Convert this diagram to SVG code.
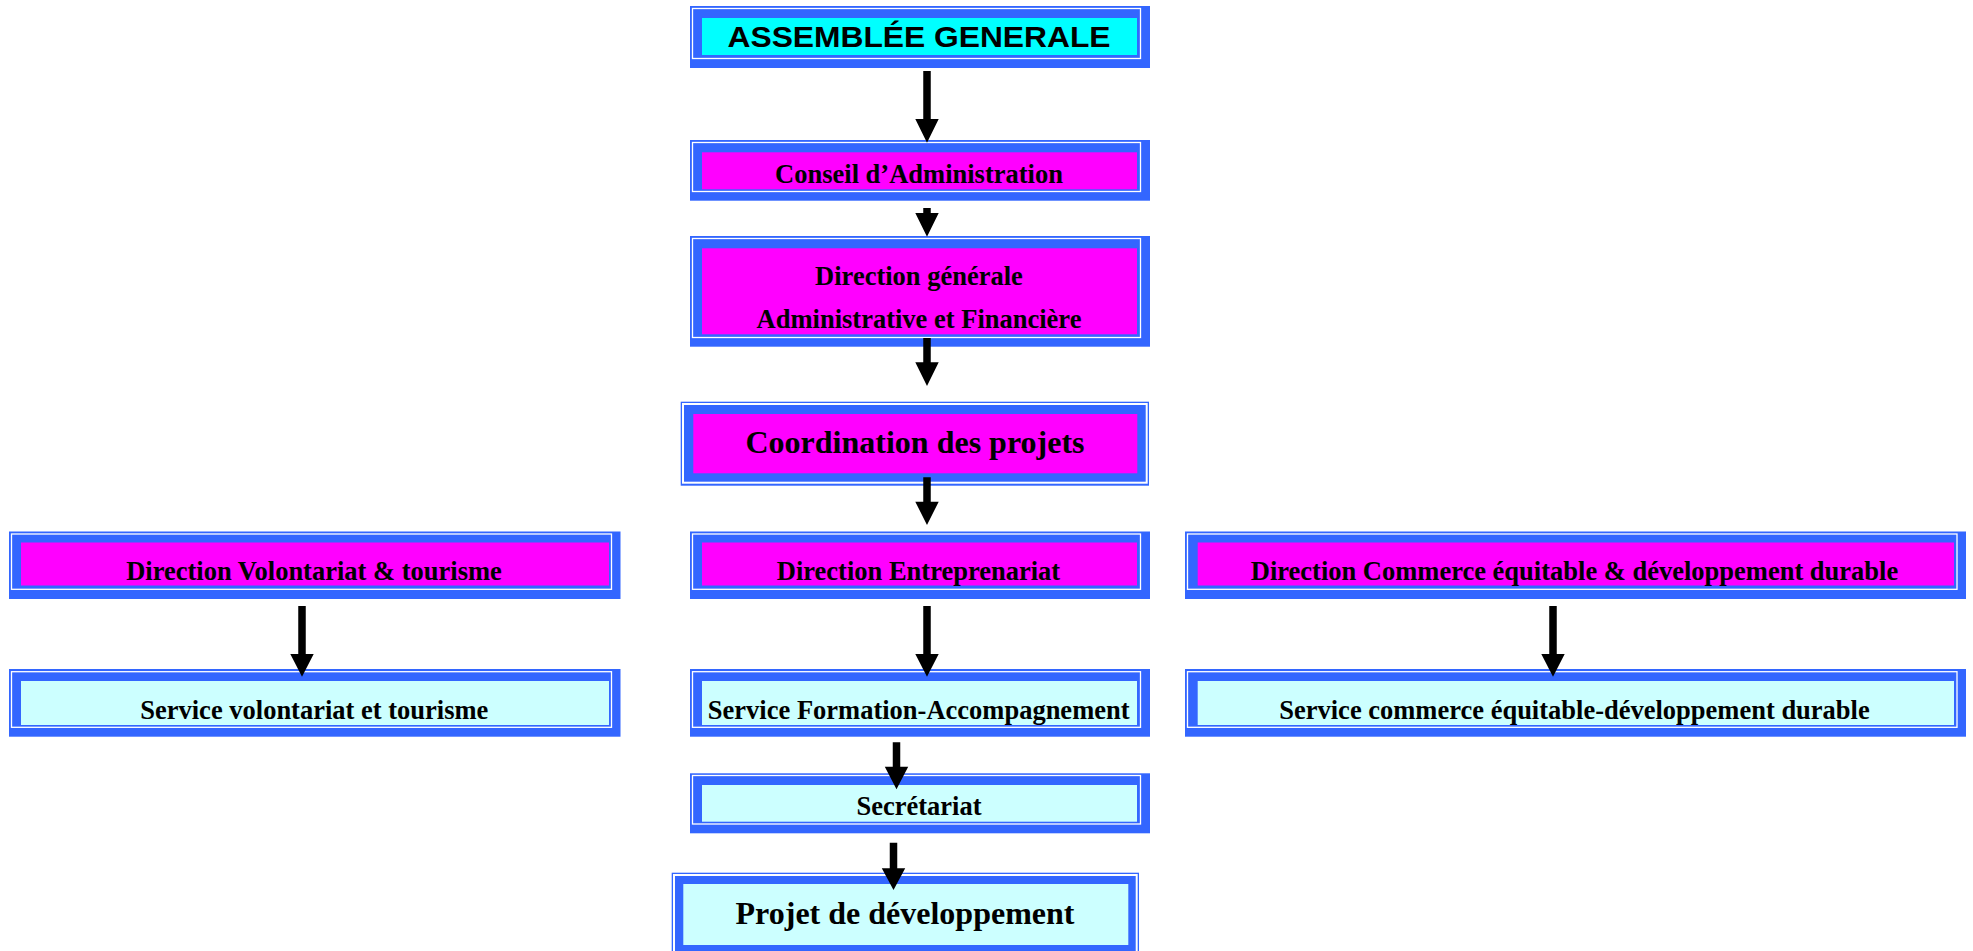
<svg xmlns="http://www.w3.org/2000/svg" width="1973" height="951" viewBox="0 0 1973 951">
<style>
.frame{fill:#3366FF}
.line{fill:none;stroke:#FFFFFF;stroke-width:1.3}
.line2{fill:none;stroke:#FFFFFF;stroke-width:2}
.mag{fill:#FF00FF}
.cyan{fill:#00FFFF}
.lcyan{fill:#CCFFFF}
.t{font-family:"Liberation Serif","Times New Roman",serif;font-weight:bold;font-size:26.5px;fill:#000;text-anchor:middle}
.big{font-size:32px}
.sans{font-family:"Liberation Sans",Arial,sans-serif;font-weight:bold;font-size:30px;fill:#000;text-anchor:middle}
.arrow{fill:#000}
</style>
<rect width="1973" height="951" fill="#FFFFFF"/>

<g id="assemblee">
<rect class="frame" x="690" y="6" width="460" height="62"/>
<rect class="line" x="692.5" y="8.5" width="448" height="50"/>
<rect class="cyan" x="702" y="18" width="435" height="37"/>
<text class="sans" x="919" y="46.5" textLength="383" lengthAdjust="spacingAndGlyphs">ASSEMBLÉE GENERALE</text>
</g>

<g id="conseil">
<rect class="frame" x="690" y="140" width="460" height="60.7"/>
<rect class="line" x="692.5" y="142.5" width="448" height="49"/>
<rect class="mag" x="702" y="152.3" width="435" height="37"/>
<text class="t" x="919" y="182.7">Conseil d’Administration</text>
</g>

<g id="direction-generale">
<rect class="frame" x="690" y="236" width="460" height="110.7"/>
<rect class="line" x="692.5" y="238.5" width="448" height="99"/>
<rect class="mag" x="702" y="248.3" width="435" height="86"/>
<text class="t" x="919" y="285">Direction générale</text>
<text class="t" x="919" y="328.3">Administrative et Financière</text>
</g>

<g id="coordination">
<rect class="frame" x="680.7" y="401.7" width="468.3" height="84"/>
<rect class="line2" x="683" y="404" width="463.7" height="78.7"/>
<rect class="mag" x="693.3" y="414" width="444" height="59.3"/>
<text class="t big" x="915" y="453.3">Coordination des projets</text>
</g>

<g id="direction-volontariat">
<rect class="frame" x="9" y="531.5" width="611.5" height="67.5"/>
<rect class="line" x="11.5" y="534" width="600" height="55.3"/>
<rect class="mag" x="21" y="542.5" width="588" height="43"/>
<text class="t" x="314" y="580">Direction Volontariat &amp; tourisme</text>
</g>

<g id="direction-entreprenariat">
<rect class="frame" x="690" y="531.5" width="460" height="67.5"/>
<rect class="line" x="692.5" y="534" width="448" height="55.3"/>
<rect class="mag" x="702" y="542.5" width="435" height="43"/>
<text class="t" x="918.5" y="580">Direction Entreprenariat</text>
</g>

<g id="direction-commerce">
<rect class="frame" x="1185" y="531.5" width="781" height="67.5"/>
<rect class="line" x="1187.5" y="534" width="769.5" height="55.3"/>
<rect class="mag" x="1197.7" y="542.5" width="756.3" height="43"/>
<text class="t" x="1574.5" y="580">Direction Commerce équitable &amp; développement durable</text>
</g>

<g id="service-volontariat">
<rect class="frame" x="9" y="669" width="611.5" height="67.7"/>
<rect class="line" x="11.5" y="671.7" width="600" height="55.6"/>
<rect class="lcyan" x="21" y="681" width="588" height="44"/>
<text class="t" x="314.3" y="719">Service volontariat et tourisme</text>
</g>

<g id="service-formation">
<rect class="frame" x="690" y="669" width="460" height="67.7"/>
<rect class="line" x="692.5" y="671.7" width="448" height="55.6"/>
<rect class="lcyan" x="702" y="681" width="435" height="44"/>
<text class="t" x="918.7" y="719.3">Service Formation-Accompagnement</text>
</g>

<g id="service-commerce">
<rect class="frame" x="1185" y="669" width="781" height="67.7"/>
<rect class="line" x="1187.5" y="671.7" width="769.5" height="55.6"/>
<rect class="lcyan" x="1197.7" y="681" width="756.3" height="44"/>
<text class="t" x="1574.5" y="718.5">Service commerce équitable-développement durable</text>
</g>

<g id="secretariat">
<rect class="frame" x="690" y="773.3" width="460" height="60"/>
<rect class="line" x="692.5" y="775.5" width="448" height="48.5"/>
<rect class="lcyan" x="702" y="785" width="435" height="36.7"/>
<text class="t" x="919" y="815">Secrétariat</text>
</g>

<g id="projet">
<rect class="frame" x="671.7" y="872.7" width="467.3" height="90"/>
<rect class="line2" x="674" y="875" width="462.7" height="85"/>
<rect class="lcyan" x="683.3" y="884" width="445" height="61"/>
<text class="t big" x="905" y="924.3">Projet de développement</text>
</g>

<g id="connectors">
<path class="arrow" d="M923.25 71H930.75V119H938.7L927 142.7L915.3 119H923.25Z"/>
<path class="arrow" d="M923.25 208H930.75V213H938.7L927 236.7L915.3 213H923.25Z"/>
<path class="arrow" d="M923.25 338H930.75V362.3H938.7L927 386L915.3 362.3H923.25Z"/>
<path class="arrow" d="M923.25 477.3H930.75V501.7H938.7L927 525L915.3 501.7H923.25Z"/>
<path class="arrow" d="M923.25 606H930.75V654H938.7L927 676.7L915.3 654H923.25Z"/>
<path class="arrow" d="M298.25 606H305.75V654H313.7L302 676.7L290.3 654H298.25Z"/>
<path class="arrow" d="M1549.25 606H1556.75V654H1564.7L1553 676.7L1541.3 654H1549.25Z"/>
<path class="arrow" d="M892.75 742.3H900.25V766.7H908.2L896.5 789.3L884.8 766.7H892.75Z"/>
<path class="arrow" d="M889.75 842.7H897.25V868.3H905.2L893.5 890L881.8 868.3H889.75Z"/>
</g>
</svg>
